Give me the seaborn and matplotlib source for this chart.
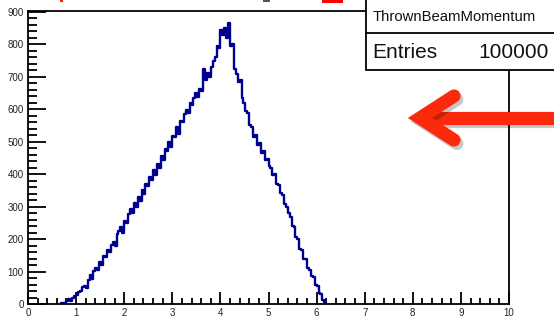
import matplotlib
matplotlib.use("Agg")
import numpy as np
import pandas as pd
import seaborn as sns
import matplotlib.pyplot as plt
from matplotlib.lines import Line2D
from matplotlib.patches import Rectangle
from matplotlib.ticker import AutoMinorLocator
import matplotlib.patheffects as pe

sns.set_theme(style="white")
plt.rcParams["font.family"] = ["Liberation Sans", "DejaVu Sans"]

# ---- data ----
BIN_WIDTH = 0.04
FIRST_EDGE = 0.68
counts = [
    2, 4, 3, 8, 14, 10, 20, 26, 28, 36,
    40, 52, 55, 50, 75, 88, 78, 102, 110, 105,
    130, 120, 148, 145, 165, 160, 182, 190, 178, 215,
    225, 236, 220, 256, 250, 278, 292, 280, 310, 300,
    330, 318, 350, 338, 370, 365, 390, 382, 412, 398,
    430, 420, 455, 445, 478, 470, 500, 485, 518, 515,
    545, 525, 565, 560, 585, 598, 590, 618, 612, 635,
    650, 638, 662, 655, 725, 690, 712, 700, 730, 748,
    760, 795, 790, 845, 830, 852, 820, 865, 795, 800,
    725, 708, 685, 690, 635, 618, 595, 590, 552, 545,
    515, 520, 490, 495, 465, 470, 445, 448, 425, 420,
    398, 402, 370, 368, 342, 335, 308, 300, 280, 268,
    240, 236, 205, 200, 170, 165, 140, 138, 112, 105,
    85, 82, 58, 55, 35, 30, 12, 6,
]
x_ticks = [0, 1, 2, 3, 4, 5, 6, 7, 8, 9, 10]
y_ticks = [0, 100, 200, 300, 400, 500, 600, 700, 800, 900]
stats_title = "ThrownBeamMomentum"
stats_label = "Entries"
stats_value = "100000"

n_bins = len(counts)
last_edge = FIRST_EDGE + BIN_WIDTH * n_bins
centers = FIRST_EDGE + BIN_WIDTH * (np.arange(n_bins) + 0.5)
df = pd.DataFrame({"x": centers, "w": np.array(counts, dtype=float)})

W, H = 554, 325
fig = plt.figure(figsize=(W / 100, H / 100), dpi=100)
fx = lambda x: x / W
fy = lambda y: 1 - y / H

ax = fig.add_axes([fx(28), fy(304), (509 - 28) / W, (304 - 11) / H])
sns.histplot(data=df, x="x", weights="w", bins=n_bins,
             binrange=(FIRST_EDGE, last_edge), element="step",
             fill=False, color="#000090", linewidth=1.7, ax=ax)

ax.set_xlim(0, 10)
ax.set_ylim(0, 903)
ax.set_xticks(x_ticks)
ax.set_xticklabels([str(t) for t in x_ticks])
ax.set_yticks(y_ticks)
ax.set_yticklabels([str(t) for t in y_ticks])
ax.xaxis.set_minor_locator(AutoMinorLocator(5))
ax.yaxis.set_minor_locator(AutoMinorLocator(5))
ax.set_xlabel("")
ax.set_ylabel("")
ax.tick_params(axis="x", which="major", direction="in", length=9, width=1.3,
               labelsize=7, pad=3, color="black", labelcolor="#222222", bottom=True)
ax.tick_params(axis="x", which="minor", direction="in", length=4.5, width=1.3,
               color="black", bottom=True)
ax.tick_params(axis="y", which="major", direction="in", length=13, width=1.3,
               labelsize=7, pad=3, color="black", labelcolor="#222222", left=True)
ax.tick_params(axis="y", which="minor", direction="in", length=6.5, width=1.3,
               color="black", left=True)
for s in ax.spines.values():
    s.set_visible(True)
    s.set_color("black")
    s.set_linewidth(1.3)
ax.grid(False)

# stats box
fig.add_artist(Rectangle((fx(366), fy(70)), (570 - 366) / W, 80 / H,
                         transform=fig.transFigure, facecolor="white",
                         edgecolor="black", linewidth=1.3, zorder=5))
fig.add_artist(Line2D([fx(366), fx(560)], [fy(33), fy(33)],
                      transform=fig.transFigure, color="black", lw=1.3, zorder=6))
fig.text(fx(454), fy(17), stats_title, ha="center", va="center",
         fontsize=10.7, color="#111111", zorder=7)
fig.text(fx(372), fy(52), stats_label, ha="left", va="center",
         fontsize=15, color="#111111", zorder=7)
fig.text(fx(549), fy(52), stats_value, ha="right", va="center",
         fontsize=15, color="#111111", zorder=7)

# cut-off title fragments at the very top
for (x0, x1, y1, c) in [(60, 63, 1.5, "#ff2200"), (322, 343, 3, "#ff0000"),
                        (263, 270, 2, "#555555")]:
    fig.add_artist(Rectangle((fx(x0), fy(y1)), (x1 - x0) / W, y1 / H + 0.01,
                             transform=fig.transFigure, facecolor=c,
                             edgecolor="none", zorder=8))

# red arrow
red = "#fc2a0d"
shadow = [pe.SimpleLineShadow(offset=(2, -2.5), shadow_color="black", alpha=0.22),
          pe.Normal()]
fig.add_artist(Line2D([fx(424), fx(570)], [fy(118), fy(118)],
                      transform=fig.transFigure, color=red, lw=9.5,
                      solid_capstyle="butt", zorder=9, path_effects=shadow))
fig.add_artist(Line2D([fx(454), fx(420), fx(454)], [fy(96), fy(118), fy(140)],
                      transform=fig.transFigure, color=red, lw=9.5,
                      solid_capstyle="round", solid_joinstyle="miter",
                      zorder=10, path_effects=shadow))

fig.savefig("out.png", dpi=100)
